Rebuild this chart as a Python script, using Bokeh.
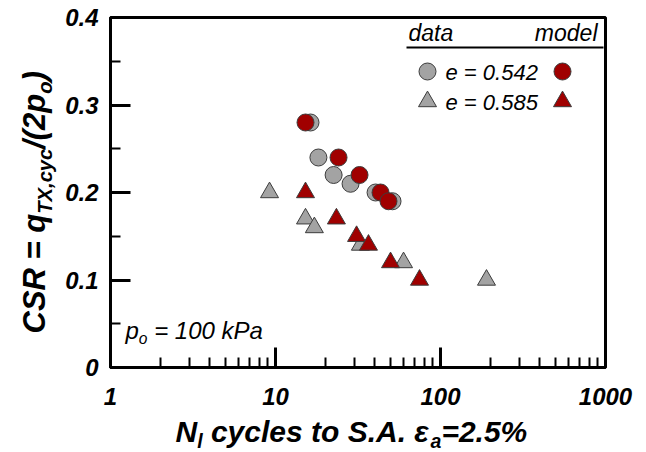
import math
from bokeh.plotting import figure
from bokeh.layouts import row, column
from bokeh.models import FixedTicker, Label, BoxAnnotation, NumeralTickFormatter
from bokeh.embed import file_html
from bokeh.resources import INLINE

# ---------------- data ----------------
gray_circle_N = [16.3, 18.2, 22.5, 28.5, 40.4, 51.2]
gray_circle_csr = [0.28, 0.24, 0.22, 0.21, 0.20, 0.19]
red_circle_N = [15.2, 24.1, 32.3, 43.3, 48.4]
red_circle_csr = [0.28, 0.24, 0.22, 0.20, 0.19]
gray_tri_N = [9.2, 15.2, 17.2, 32.7, 59.7, 190.0]
gray_tri_csr = [0.20, 0.17, 0.16, 0.14, 0.12, 0.10]
red_tri_N = [15.2, 23.4, 31.0, 36.6, 49.8, 74.6]
red_tri_csr = [0.20, 0.17, 0.15, 0.14, 0.12, 0.10]

x_ticks = [1, 10, 100, 1000]
y_ticks = [0, 0.1, 0.2, 0.3, 0.4]
legend_labels = ["e = 0.542", "e = 0.585"]
legend_headers = ["data", "model"]

# ---------------- styles / layout ----------------
GRAY = "#a3a3a3"
RED = "#a00000"
EDGE = "#3c3c3c"
FONT = "Liberation Sans"
NB = "\u00a0"
W, H = 646, 452
LEFT_W = 58          # strip holding the y title
BOT_H = 36           # strip holding the x title
FL, FR, FT, FB = 110, 605, 17, 367  # frame edges in canvas px
MAIN_W, MAIN_H = W - LEFT_W, H - BOT_H
K = 0.33             # label baseline correction (fraction of font size)

p = figure(width=MAIN_W, height=MAIN_H, x_axis_type="log", x_range=(1, 1000),
           y_range=(0, 0.4), output_backend="svg", toolbar_location=None, title=None,
           min_border_left=FL - LEFT_W, min_border_right=W - FR, min_border_top=FT,
           min_border_bottom=MAIN_H - FB)
p.grid.visible = False
p.outline_line_color = "black"
p.outline_line_width = 3
p.background_fill_color = "white"
p.border_fill_color = "white"

minor_x = [k * 10 ** d for d in range(3) for k in range(2, 10)]
p.xaxis.ticker = FixedTicker(ticks=x_ticks, minor_ticks=minor_x)
p.xaxis.formatter = NumeralTickFormatter(format="0")
p.yaxis.ticker = FixedTicker(ticks=y_ticks, minor_ticks=[0.05, 0.15, 0.25, 0.35])
p.yaxis.formatter = NumeralTickFormatter(format="0.[0]")
for ax in (p.xaxis, p.yaxis):
    ax.axis_line_width = 3
    ax.axis_line_color = "black"
    ax.major_tick_in = 20
    ax.major_tick_out = 0
    ax.minor_tick_in = 10
    ax.minor_tick_out = 0
    ax.major_tick_line_width = 3
    ax.minor_tick_line_width = 2
    ax.major_label_text_font = FONT
    ax.major_label_text_font_style = "bold italic"
    ax.major_label_text_font_size = "24px"
    ax.major_label_text_color = "black"
p.yaxis.major_label_standoff = 12
p.xaxis.major_label_standoff = 20

# ---------------- data marks ----------------
MS_C, MS_T = 17, 18
p.scatter(gray_circle_N, gray_circle_csr, marker="circle", size=MS_C,
          fill_color=GRAY, line_color=EDGE, line_width=1)
p.scatter(gray_tri_N, gray_tri_csr, marker="triangle", size=MS_T,
          fill_color=GRAY, line_color=EDGE, line_width=1)
p.scatter(red_circle_N, red_circle_csr, marker="circle", size=MS_C,
          fill_color=RED, line_color=EDGE, line_width=1)
p.scatter(red_tri_N, red_tri_csr, marker="triangle", size=MS_T,
          fill_color=RED, line_color=EDGE, line_width=1)

# ---------------- text helpers ----------------
BOLD = {' ': 278, NB: 278, 'C': 722, 'S': 667, 'R': 722, '=': 584, 'q': 611, 'T': 611,
        'X': 667, ',': 278, 'c': 556, 'y': 556, '/': 278, '(': 333, ')': 333, '2': 556,
        'p': 611, 'o': 611, 'N': 722, 'l': 278, 'e': 556, 's': 556, 't': 333, '.': 278,
        'A': 722, 'ε': 540, 'a': 556, '5': 556, '%': 889}
REG = {' ': 278, NB: 278, 'd': 556, 'a': 556, 't': 278, 'm': 833, 'o': 556, 'e': 556,
       'l': 222, '=': 584, '0': 556, '.': 278, '5': 556, '4': 556, '2': 556, '8': 556,
       'p': 556, '1': 556, 'k': 500, 'P': 667}


def tw(s, table, size):
    return sum(table.get(ch, 556) for ch in s) / 1000 * size


def blank_fig(w, h, top=0, bottom=0):
    f = figure(width=w, height=h, x_range=(0, w), y_range=(bottom, h - top),
               output_backend="svg", toolbar_location=None, title=None,
               min_border_left=0, min_border_right=0, min_border_top=top,
               min_border_bottom=bottom, x_axis_location=None, y_axis_location=None)
    f.grid.visible = False
    f.outline_line_color = None
    f.background_fill_color = "white"
    f.border_fill_color = "white"
    return f


# left strip shares the main frame's vertical extent (row aligns frames)
left = blank_fig(LEFT_W, MAIN_H, top=FT, bottom=MAIN_H - FB)
bottom = blank_fig(W, BOT_H)


def add_text(fig, text, cx, cy, size, style, angle=0.0, align="left"):
    """cx, cy: canvas pixels of the whole page; cy is the baseline."""
    if angle == 0.0:
        cy = cy - K * size
    else:
        cx = cx - K * size
    if fig is p:
        x, y, u = cx - FL, FB - cy, "screen"
    elif fig is left:
        x, y, u = cx, MAIN_H - cy, "data"
    else:
        x, y, u = cx, H - cy, "data"
    fig.add_layout(Label(x=x, y=y, x_units=u, y_units=u, text=text,
                         text_font=FONT, text_font_size=f"{size:.1f}px",
                         text_font_style=style, angle=angle, text_align=align,
                         text_baseline="alphabetic", text_color="black"))


def seq(fig, pieces, cx, cy, size, style, table, vertical=False, sub_off=0.22):
    pos = 0.0
    for txt, sub in pieces:
        fs = size * 0.65 if sub else size
        off = size * sub_off if sub else 0.0
        if vertical:
            add_text(fig, txt, cx + off, cy - pos, fs, style, angle=math.pi / 2)
        else:
            add_text(fig, txt, cx + pos, cy + off, fs, style)
        pos += tw(txt, table, fs)


# axis titles
seq(bottom, [("N", False), ("l", True), (NB + "cycles to S.A." + NB + "ε", False),
             ("a", True), ("=2.5%", False)], 175, 441, 30, "bold italic", BOLD,
    sub_off=0.2)
seq(left, [("CSR" + NB + "=" + NB + "q", False), ("TX,cyc", True), ("/(2p", False),
           ("o", True), (")", False)], 44, 333, 31, "bold italic", BOLD, vertical=True)

# p_o annotation
seq(p, [("p", False), ("o", True), (NB + "=" + NB + "100" + NB + "kPa", False)],
    125, 338, 24, "italic", REG)

# ---------------- legend ----------------
add_text(p, legend_headers[0], 408, 40, 23, "italic")
add_text(p, legend_headers[1], 597, 40, 23, "italic", align="right")
p.add_layout(BoxAnnotation(left=406 - FL, right=603 - FL, top=FB - 46, bottom=FB - 48,
                           left_units="screen", right_units="screen", top_units="screen",
                           bottom_units="screen", fill_color="black", fill_alpha=1,
                           line_alpha=0))


def dx(cx):
    return 10 ** ((cx - FL) / ((FR - FL) / 3))


def dy(cy):
    return (FB - cy) / (FB - FT) * 0.4


rows_y = [71, 101]
markers = ["circle", "triangle"]
sizes = [MS_C, MS_T]
for i in range(2):
    p.scatter([dx(427)], [dy(rows_y[i])], marker=markers[i], size=sizes[i],
              fill_color=GRAY, line_color=EDGE, line_width=1)
    p.scatter([dx(562)], [dy(rows_y[i])], marker=markers[i], size=sizes[i],
              fill_color=RED, line_color=EDGE, line_width=1)
    add_text(p, legend_labels[i], 445, rows_y[i] + 8, 22, "italic")

layout = column(row(left, p), bottom)
open("out.html", "w").write(file_html(layout, INLINE))
